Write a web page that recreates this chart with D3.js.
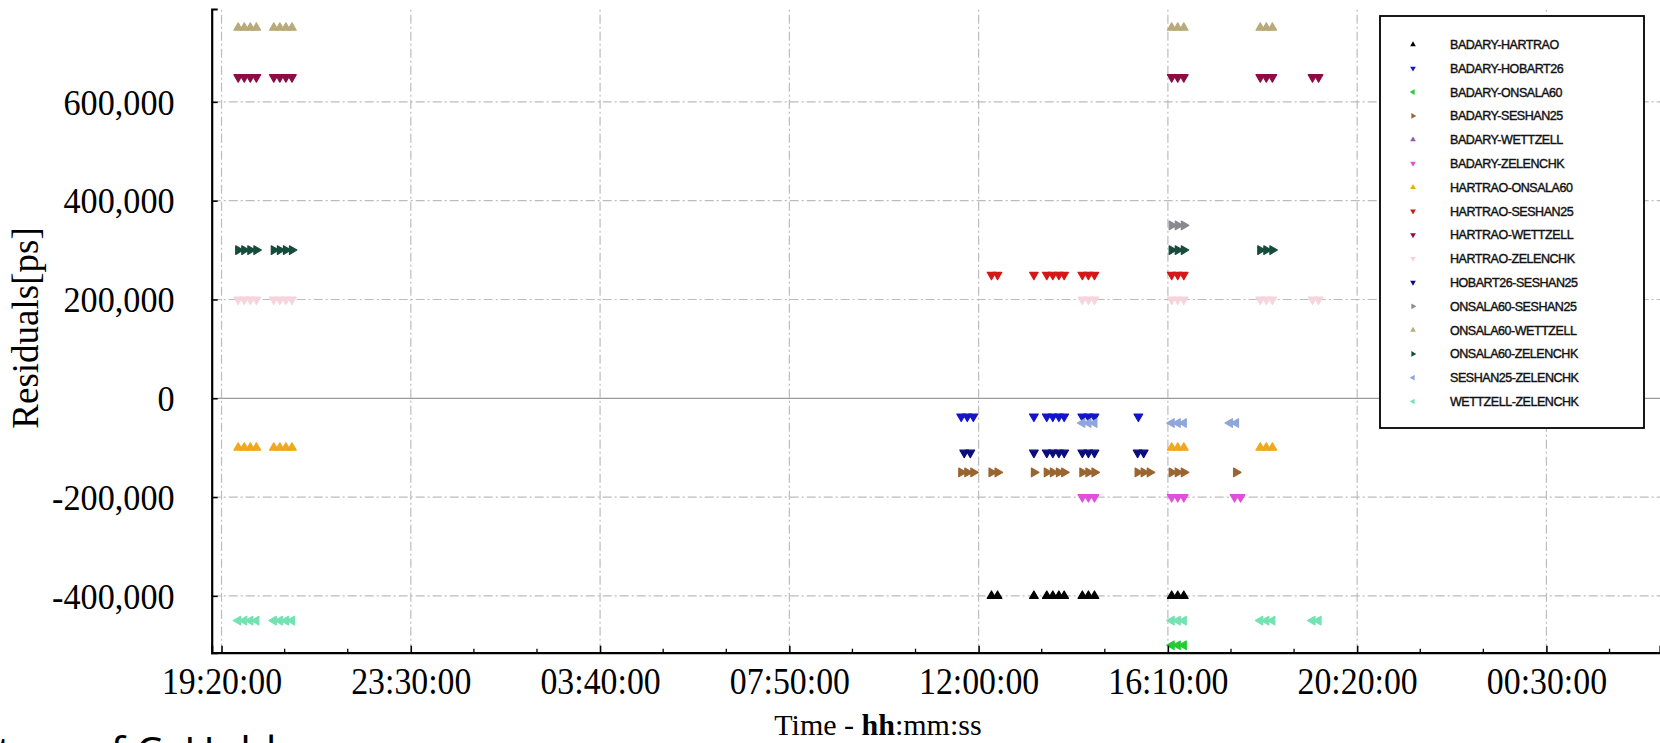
<!DOCTYPE html>
<html>
<head>
<meta charset="utf-8">
<script src="https://cdn.jsdelivr.net/npm/d3@7"></script>
<style>
  html, body { margin: 0; padding: 0; background: #fff; }
  svg { display: block; }
</style>
</head>
<body>
<svg id="chart" width="1660" height="743"></svg>
<script>
// Baseline residuals against scan time ("day HH:MM"), one array per baseline.
const BADARY_HARTRAO = [["2 12:17",-400000],["2 12:25",-400000],["2 13:13",-400000],["2 13:30",-400000],["2 13:38",-400000],["2 13:46",-400000],["2 13:53",-400000],["2 14:17",-400000],["2 14:25",-400000],["2 14:33",-400000],["2 16:15",-400000],["2 16:23",-400000],["2 16:31",-400000]];
const BADARY_HOBART26 = [["2 11:37",-37000],["2 11:45",-37000],["2 11:53",-37000],["2 13:13",-37000],["2 13:30",-37000],["2 13:38",-37000],["2 13:46",-37000],["2 13:53",-37000],["2 14:17",-37000],["2 14:25",-37000],["2 14:33",-37000],["2 15:31",-37000]];
const BADARY_ONSALA60 = [["2 16:15",-500000],["2 16:23",-500000],["2 16:31",-500000]];
const BADARY_SESHAN25 = [["2 11:37",-150000],["2 11:45",-150000],["2 11:53",-150000],["2 12:17",-150000],["2 12:25",-150000],["2 13:13",-150000],["2 13:30",-150000],["2 13:38",-150000],["2 13:46",-150000],["2 13:53",-150000],["2 14:17",-150000],["2 14:25",-150000],["2 14:33",-150000],["2 15:30",-150000],["2 15:38",-150000],["2 15:46",-150000],["2 16:15",-150000],["2 16:23",-150000],["2 16:31",-150000],["2 17:40",-150000]];
const BADARY_WETTZELL = [];
const BADARY_ZELENCHK = [["2 14:17",-200000],["2 14:25",-200000],["2 14:33",-200000],["2 16:15",-200000],["2 16:23",-200000],["2 16:31",-200000],["2 17:38",-200000],["2 17:46",-200000]];
const HARTRAO_ONSALA60 = [["1 19:42",-100000],["1 19:50",-100000],["1 19:58",-100000],["1 20:06",-100000],["1 20:29",-100000],["1 20:37",-100000],["1 20:45",-100000],["1 20:53",-100000],["2 16:15",-100000],["2 16:23",-100000],["2 16:31",-100000],["2 18:12",-100000],["2 18:20",-100000],["2 18:28",-100000]];
const HARTRAO_SESHAN25 = [["2 12:17",250000],["2 12:25",250000],["2 13:13",250000],["2 13:30",250000],["2 13:38",250000],["2 13:46",250000],["2 13:53",250000],["2 14:17",250000],["2 14:25",250000],["2 14:33",250000],["2 16:15",250000],["2 16:23",250000],["2 16:31",250000]];
const HARTRAO_WETTZELL = [["1 19:42",650000],["1 19:50",650000],["1 19:58",650000],["1 20:06",650000],["1 20:29",650000],["1 20:37",650000],["1 20:45",650000],["1 20:53",650000],["2 16:15",650000],["2 16:23",650000],["2 16:31",650000],["2 18:12",650000],["2 18:20",650000],["2 18:28",650000],["2 19:21",650000],["2 19:29",650000]];
const HARTRAO_ZELENCHK = [["1 19:42",200000],["1 19:50",200000],["1 19:58",200000],["1 20:06",200000],["1 20:29",200000],["1 20:37",200000],["1 20:45",200000],["1 20:53",200000],["2 14:17",200000],["2 14:25",200000],["2 14:33",200000],["2 16:15",200000],["2 16:23",200000],["2 16:31",200000],["2 18:12",200000],["2 18:20",200000],["2 18:28",200000],["2 19:21",200000],["2 19:29",200000]];
const HOBART26_SESHAN25 = [["2 11:41",-110000],["2 11:49",-110000],["2 13:13",-110000],["2 13:30",-110000],["2 13:38",-110000],["2 13:46",-110000],["2 13:53",-110000],["2 14:17",-110000],["2 14:25",-110000],["2 14:33",-110000],["2 15:30",-110000],["2 15:38",-110000]];
const ONSALA60_SESHAN25 = [["2 16:15",350000],["2 16:23",350000],["2 16:31",350000]];
const ONSALA60_WETTZELL = [["1 19:42",750000],["1 19:50",750000],["1 19:58",750000],["1 20:06",750000],["1 20:29",750000],["1 20:37",750000],["1 20:45",750000],["1 20:53",750000],["2 16:15",750000],["2 16:23",750000],["2 16:31",750000],["2 18:12",750000],["2 18:20",750000],["2 18:28",750000]];
const ONSALA60_ZELENCHK = [["1 19:42",300000],["1 19:50",300000],["1 19:58",300000],["1 20:06",300000],["1 20:29",300000],["1 20:37",300000],["1 20:45",300000],["1 20:53",300000],["2 16:15",300000],["2 16:23",300000],["2 16:31",300000],["2 18:12",300000],["2 18:20",300000],["2 18:28",300000]];
const SESHAN25_ZELENCHK = [["2 14:17",-50000],["2 14:25",-50000],["2 14:33",-50000],["2 16:15",-50000],["2 16:23",-50000],["2 16:31",-50000],["2 17:32",-50000],["2 17:40",-50000]];
const WETTZELL_ZELENCHK = [["1 19:42",-450000],["1 19:50",-450000],["1 19:58",-450000],["1 20:06",-450000],["1 20:29",-450000],["1 20:37",-450000],["1 20:45",-450000],["1 20:53",-450000],["2 16:15",-450000],["2 16:23",-450000],["2 16:31",-450000],["2 18:12",-450000],["2 18:20",-450000],["2 18:28",-450000],["2 19:21",-450000],["2 19:29",-450000]];

const baselineNames = ["BADARY-HARTRAO","BADARY-HOBART26","BADARY-ONSALA60","BADARY-SESHAN25","BADARY-WETTZELL","BADARY-ZELENCHK","HARTRAO-ONSALA60","HARTRAO-SESHAN25","HARTRAO-WETTZELL","HARTRAO-ZELENCHK","HOBART26-SESHAN25","ONSALA60-SESHAN25","ONSALA60-WETTZELL","ONSALA60-ZELENCHK","SESHAN25-ZELENCHK","WETTZELL-ZELENCHK"];
const baselineData = [BADARY_HARTRAO,BADARY_HOBART26,BADARY_ONSALA60,BADARY_SESHAN25,BADARY_WETTZELL,BADARY_ZELENCHK,HARTRAO_ONSALA60,HARTRAO_SESHAN25,HARTRAO_WETTZELL,HARTRAO_ZELENCHK,HOBART26_SESHAN25,ONSALA60_SESHAN25,ONSALA60_WETTZELL,ONSALA60_ZELENCHK,SESHAN25_ZELENCHK,WETTZELL_ZELENCHK];
const baselineColors = ["#000000","#1414c8","#22cc33","#9a6530","#8c5cb4","#e050d8","#f0a81c","#d41818","#8e0c44","#f5d4de","#0c0c7c","#8a8890","#b9aa7a","#164c3c","#8fa6d8","#74e2b2"];
const markerRotation = [0,180,270,90,0,180,0,180,180,180,180,90,0,90,270,270];

const xTickValues = ["1 19:20","1 23:30","2 03:40","2 07:50","2 12:00","2 16:10","2 20:20","3 00:30"];
const xTickLabels = ["19:20:00","23:30:00","03:40:00","07:50:00","12:00:00","16:10:00","20:20:00","00:30:00"];
const yTickValues = [-400000,-200000,0,200000,400000,600000];
const xDomain = ["1 19:07","3 03:00"];
const yDomain = [-515000, 788000];

const parseT = d3.timeParse("%d %H:%M");
const svg = d3.select("#chart");
const plotLeft = 211.7, plotRight = 1660, plotTop = 9, plotBottom = 652.7;

const x = d3.scaleTime().domain(xDomain.map(parseT)).range([plotLeft, plotRight]);
const y = d3.scaleLinear().domain(yDomain).range([plotBottom, plotTop]);

svg.append("rect").attr("width", 1660).attr("height", 743).attr("fill", "#fff");

// grid
const grid = svg.append("g");
const majors = xTickValues.map(parseT);
grid.selectAll(".vg").data(majors).join("line")
  .attr("x1", d => x(d)).attr("x2", d => x(d))
  .attr("y1", plotBottom).attr("y2", plotTop)
  .attr("stroke", "#bcbcbc").attr("stroke-width", 1.2)
  .attr("stroke-dasharray", "9,3,2,3");
grid.selectAll(".hg").data(yTickValues.filter(v => v !== 0)).join("line")
  .attr("x1", plotLeft).attr("x2", plotRight)
  .attr("y1", d => y(d)).attr("y2", d => y(d))
  .attr("stroke", "#bcbcbc").attr("stroke-width", 1.2)
  .attr("stroke-dasharray", "9,3,2,3");
grid.append("line")
  .attr("x1", plotLeft).attr("x2", plotRight)
  .attr("y1", y(0)).attr("y2", y(0))
  .attr("stroke", "#9a9a9a").attr("stroke-width", 1.3);

// points
const plot = svg.append("g");
baselineData.forEach((pts, i) => {
  const sym = d3.symbol().type(d3.symbolTriangle).size(32);
  plot.append("g").selectAll("path").data(pts).join("path")
    .attr("d", sym)
    .attr("transform", d => `translate(${x(parseT(d[0]))},${y(d[1])}) rotate(${markerRotation[i]})`)
    .attr("fill", baselineColors[i])
    .attr("stroke", baselineColors[i]).attr("stroke-width", 1.2).attr("stroke-linejoin", "round");
});

// axes
const xAxis = d3.axisBottom(x).tickValues(majors).tickSize(-7).tickFormat((d, i) => xTickLabels[i]);
const gx = svg.append("g").attr("transform", `translate(0,${plotBottom})`).call(xAxis);
gx.select(".domain").attr("stroke", "#000").attr("stroke-width", 2.2);
gx.selectAll(".tick line").attr("stroke", "#000").attr("stroke-width", 1.5);
gx.selectAll(".tick text")
  .attr("font-family", "'Liberation Serif', serif").attr("font-size", 38)
  .attr("fill", "#000").attr("dy", 0).attr("y", 41)
  .attr("transform", "scale(0.89,1)");

// minor x ticks (three per major interval)
const step = (majors[1] - majors[0]) / 3;
const minors = [];
for (let t = +majors[0] + step; t < +x.domain()[1]; t += step) {
  if (!majors.some(m => Math.abs(+m - t) < 1000)) minors.push(new Date(t));
}
svg.append("g").selectAll("line").data(minors).join("line")
  .attr("x1", d => x(d)).attr("x2", d => x(d))
  .attr("y1", plotBottom).attr("y2", plotBottom - 4)
  .attr("stroke", "#000").attr("stroke-width", 1.3);

const fmtY = v => d3.format(",")(v).replace("\u2212", "-");
const yAxis = d3.axisLeft(y).tickValues(yTickValues).tickSize(-6).tickFormat(fmtY);
const gy = svg.append("g").attr("transform", `translate(${plotLeft},0)`).call(yAxis);
gy.select(".domain").attr("stroke", "#000").attr("stroke-width", 2.2);
gy.selectAll(".tick line").attr("stroke", "#000").attr("stroke-width", 1.5);
gy.selectAll(".tick text")
  .attr("font-family", "'Liberation Serif', serif").attr("font-size", 36)
  .attr("fill", "#000").attr("x", -39).attr("dy", "0.34em")
  .attr("transform", "scale(0.95,1)");

// axis titles
const xt = svg.append("text")
  .attr("x", 878).attr("y", 735).attr("text-anchor", "middle")
  .attr("font-family", "'Liberation Serif', serif").attr("font-size", 30).attr("fill", "#000");
xt.append("tspan").text("Time - ");
xt.append("tspan").attr("font-weight", "bold").text("hh");
xt.append("tspan").text(":mm:ss");

svg.append("text")
  .attr("transform", "translate(38,328) rotate(-90)")
  .attr("text-anchor", "middle")
  .attr("font-family", "'Liberation Serif', serif").attr("font-size", 37).attr("fill", "#000")
  .text("Residuals[ps]");

// text running in from below the figure
svg.append("text")
  .attr("x", -3).attr("y", 767)
  .attr("font-family", "'Open Sans', sans-serif").attr("font-size", 42).attr("fill", "#000")
  .text("tors of C. Hold");

// legend
const lg = svg.append("g");
lg.append("rect").attr("x", 1380).attr("y", 16).attr("width", 264).attr("height", 412)
  .attr("fill", "#fff").attr("stroke", "#000").attr("stroke-width", 1.8);
const rows = lg.selectAll(".row").data(baselineNames).join("g")
  .attr("transform", (d, i) => `translate(0,${44.5 + i * 23.8})`);
rows.append("path")
  .attr("d", d3.symbol().type(d3.symbolTriangle).size(14))
  .attr("transform", (d, i) => `translate(1413,0) rotate(${markerRotation[i]})`)
  .attr("fill", (d, i) => baselineColors[i]);
rows.append("text")
  .attr("x", 1450).attr("dy", "0.36em")
  .attr("font-family", "'Liberation Sans', sans-serif").attr("font-size", 12.5)
  .attr("letter-spacing", -0.45).attr("fill", "#111")
  .attr("stroke", "#111").attr("stroke-width", 0.4)
  .text(d => d);
</script>
</body>
</html>
